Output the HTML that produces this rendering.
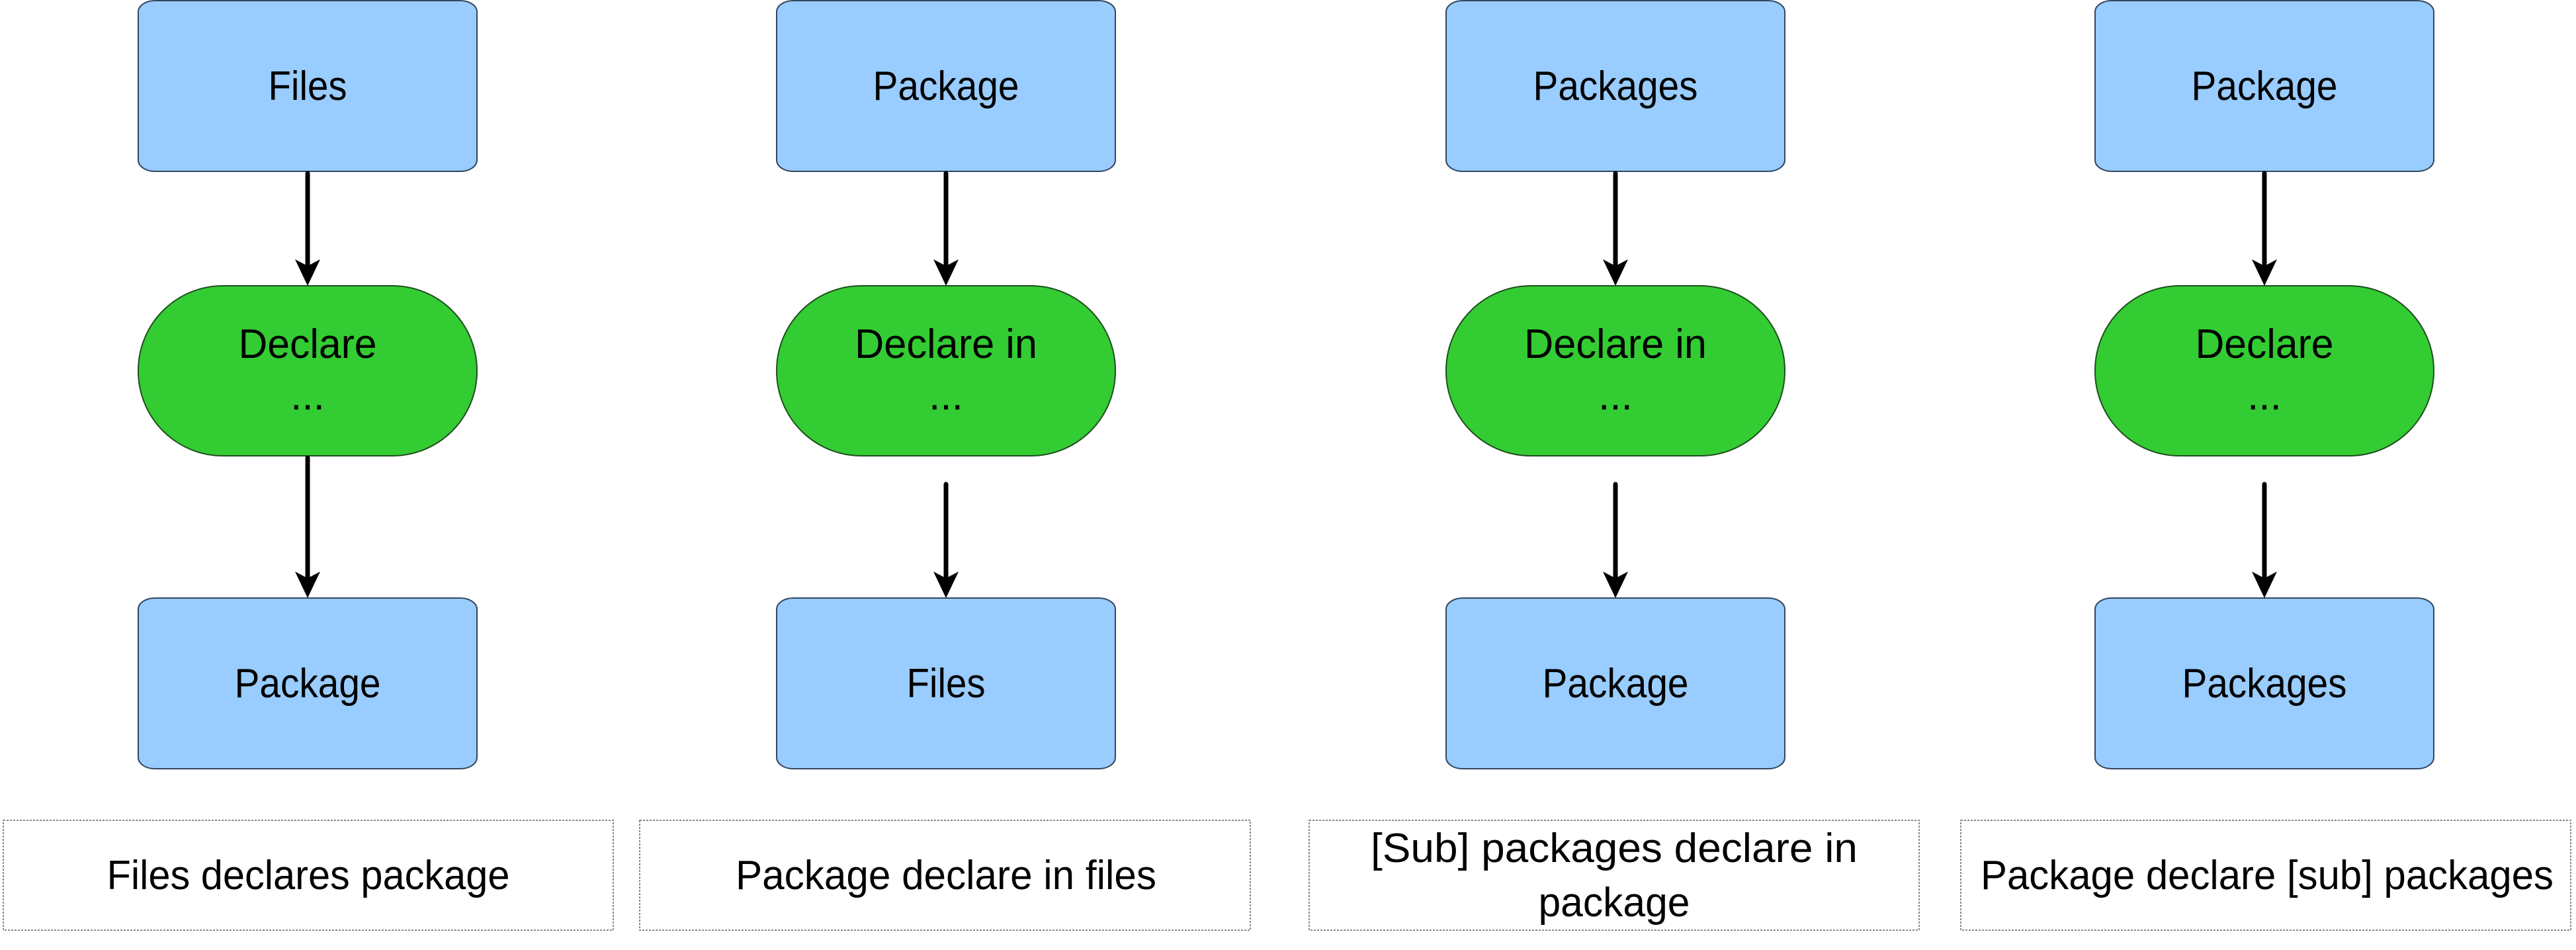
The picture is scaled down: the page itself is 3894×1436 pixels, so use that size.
<!DOCTYPE html>
<html><head><meta charset="utf-8"><style>html,body{margin:0;padding:0;background:#fff;}svg{display:block}</style></head>
<body>
<svg width="3894" height="1436" viewBox="0 0 3894 1436" xmlns="http://www.w3.org/2000/svg" font-family="'Liberation Sans', sans-serif" font-size="62" text-anchor="middle">
<defs>
<g id="arrowhead"><path d="M-19,-40 L0,-30 L19,-40 L0,0 Z" fill="#000"/></g>
</defs>
<g stroke-width="2">
<!-- column 1 -->
<g transform="translate(465,0)">
<rect x="-256" y="1" width="512" height="258" rx="25" ry="17" fill="#99ccff" stroke="#33475f"/>
<rect x="-256" y="432" width="512" height="257" rx="128" ry="128" fill="#33cc33" stroke="#1f4f1f"/>
<rect x="-256" y="904" width="512" height="258" rx="25" ry="17" fill="#99ccff" stroke="#33475f"/>
<line x1="0" y1="262" x2="0" y2="405" stroke="#000" stroke-width="7" stroke-linecap="round"/>
<use href="#arrowhead" x="0" y="432" stroke="none"/>
<line x1="0" y1="692" x2="0" y2="875" stroke="#000" stroke-width="7" stroke-linecap="round"/>
<use href="#arrowhead" x="0" y="904" stroke="none"/>
</g>
<!-- column 2,3,4 -->
<g transform="translate(1430,0)">
<rect x="-256" y="1" width="512" height="258" rx="25" ry="17" fill="#99ccff" stroke="#33475f"/>
<rect x="-256" y="432" width="512" height="257" rx="128" ry="128" fill="#33cc33" stroke="#1f4f1f"/>
<rect x="-256" y="904" width="512" height="258" rx="25" ry="17" fill="#99ccff" stroke="#33475f"/>
<line x1="0" y1="262" x2="0" y2="405" stroke="#000" stroke-width="7" stroke-linecap="round"/>
<use href="#arrowhead" x="0" y="432" stroke="none"/>
<line x1="0" y1="732" x2="0" y2="875" stroke="#000" stroke-width="7" stroke-linecap="round"/>
<use href="#arrowhead" x="0" y="904" stroke="none"/>
</g>
<g transform="translate(2442,0)">
<rect x="-256" y="1" width="512" height="258" rx="25" ry="17" fill="#99ccff" stroke="#33475f"/>
<rect x="-256" y="432" width="512" height="257" rx="128" ry="128" fill="#33cc33" stroke="#1f4f1f"/>
<rect x="-256" y="904" width="512" height="258" rx="25" ry="17" fill="#99ccff" stroke="#33475f"/>
<line x1="0" y1="262" x2="0" y2="405" stroke="#000" stroke-width="7" stroke-linecap="round"/>
<use href="#arrowhead" x="0" y="432" stroke="none"/>
<line x1="0" y1="732" x2="0" y2="875" stroke="#000" stroke-width="7" stroke-linecap="round"/>
<use href="#arrowhead" x="0" y="904" stroke="none"/>
</g>
<g transform="translate(3423,0)">
<rect x="-256" y="1" width="512" height="258" rx="25" ry="17" fill="#99ccff" stroke="#33475f"/>
<rect x="-256" y="432" width="512" height="257" rx="128" ry="128" fill="#33cc33" stroke="#1f4f1f"/>
<rect x="-256" y="904" width="512" height="258" rx="25" ry="17" fill="#99ccff" stroke="#33475f"/>
<line x1="0" y1="262" x2="0" y2="405" stroke="#000" stroke-width="7" stroke-linecap="round"/>
<use href="#arrowhead" x="0" y="432" stroke="none"/>
<line x1="0" y1="732" x2="0" y2="875" stroke="#000" stroke-width="7" stroke-linecap="round"/>
<use href="#arrowhead" x="0" y="904" stroke="none"/>
</g>
</g>
<!-- label boxes -->
<g fill="#fff" stroke="#888" stroke-width="2" stroke-dasharray="3,2">
<rect x="5" y="1240" width="922" height="166"/>
<rect x="967" y="1240" width="923" height="166"/>
<rect x="1979" y="1240" width="922" height="166"/>
<rect x="2964" y="1240" width="922" height="166"/>
</g>
<!-- texts -->
<g fill="#000" lengthAdjust="spacingAndGlyphs">
<text x="465" y="151" textLength="119" lengthAdjust="spacingAndGlyphs">Files</text>
<text x="465" y="541" textLength="209" lengthAdjust="spacingAndGlyphs">Declare</text>
<text x="465" y="619">...</text>
<text x="465" y="1054" textLength="221" lengthAdjust="spacingAndGlyphs">Package</text>

<text x="1430" y="151" textLength="221" lengthAdjust="spacingAndGlyphs">Package</text>
<text x="1430" y="541" textLength="276" lengthAdjust="spacingAndGlyphs">Declare in</text>
<text x="1430" y="619">...</text>
<text x="1430" y="1054" textLength="119" lengthAdjust="spacingAndGlyphs">Files</text>

<text x="2442" y="151" textLength="249" lengthAdjust="spacingAndGlyphs">Packages</text>
<text x="2442" y="541" textLength="276" lengthAdjust="spacingAndGlyphs">Declare in</text>
<text x="2442" y="619">...</text>
<text x="2442" y="1054" textLength="221" lengthAdjust="spacingAndGlyphs">Package</text>

<text x="3423" y="151" textLength="221" lengthAdjust="spacingAndGlyphs">Package</text>
<text x="3423" y="541" textLength="209" lengthAdjust="spacingAndGlyphs">Declare</text>
<text x="3423" y="619">...</text>
<text x="3423" y="1054" textLength="249" lengthAdjust="spacingAndGlyphs">Packages</text>

<text x="466" y="1344" textLength="609" lengthAdjust="spacingAndGlyphs">Files declares package</text>
<text x="1430" y="1344" textLength="636" lengthAdjust="spacingAndGlyphs">Package declare in files</text>
<text x="2440" y="1303" textLength="736" lengthAdjust="spacingAndGlyphs">[Sub] packages declare in</text>
<text x="2440" y="1385" textLength="229" lengthAdjust="spacingAndGlyphs">package</text>
<text x="3427" y="1344" textLength="866" lengthAdjust="spacingAndGlyphs">Package declare [sub] packages</text>
</g>
</svg>
</body></html>
